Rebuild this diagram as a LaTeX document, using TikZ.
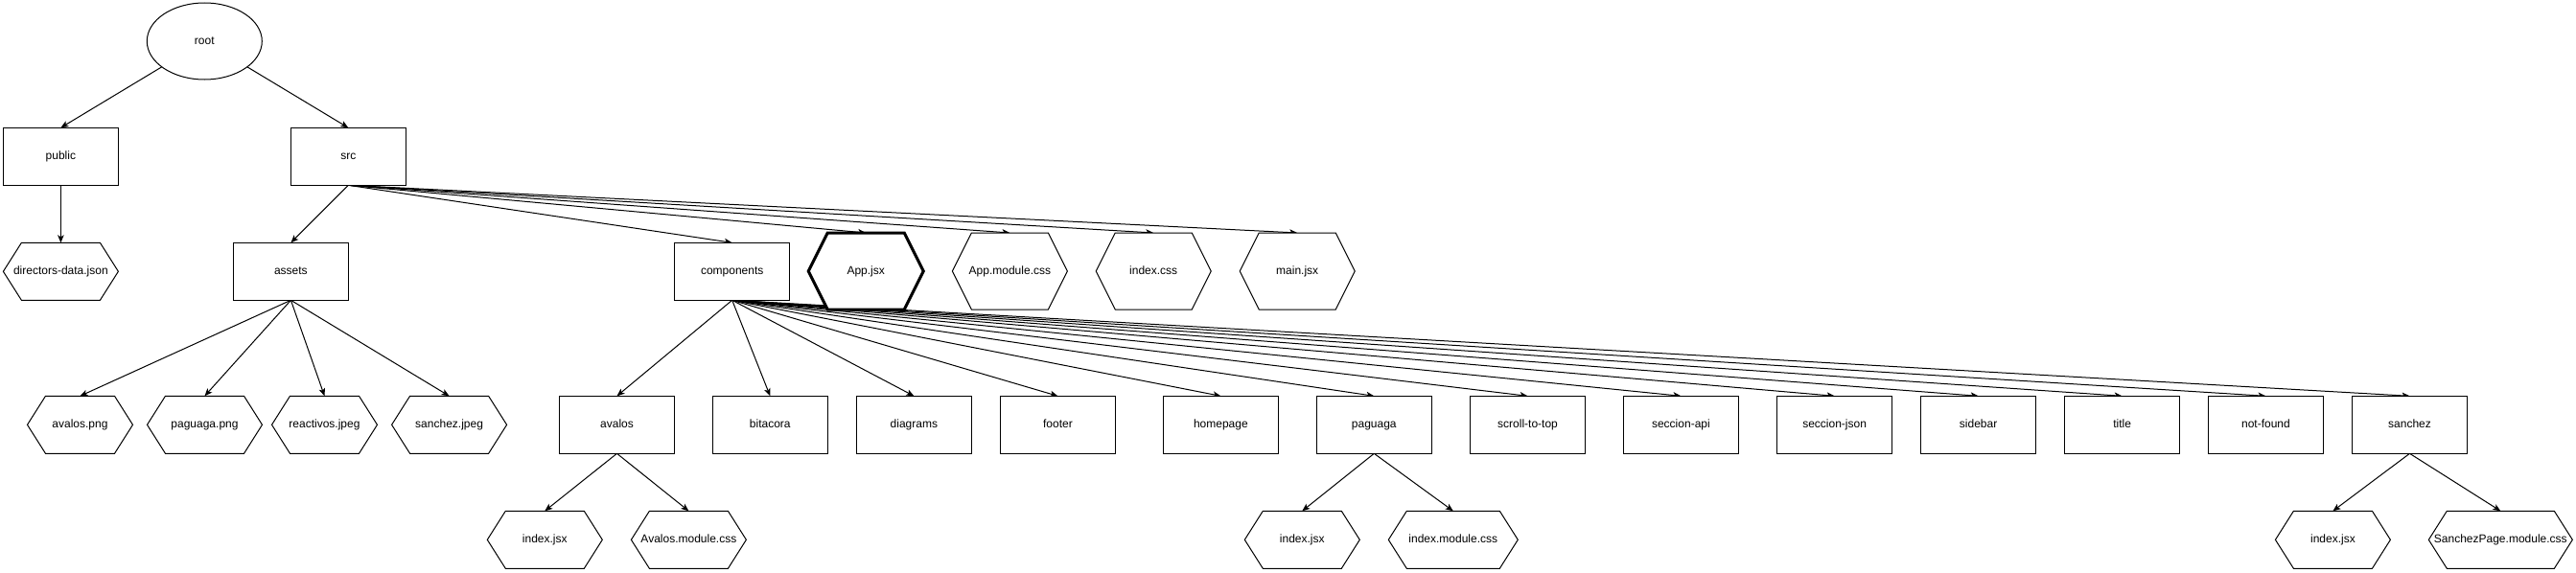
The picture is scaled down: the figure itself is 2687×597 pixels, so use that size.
\documentclass[tikz,border=0pt]{standalone}
\usepackage{fontspec}
\setmainfont{Liberation Sans}
\usetikzlibrary{arrows.meta,shapes.geometric}
\pgfdeclarelayer{edgelayer}
\pgfdeclarelayer{shapelayer}
\pgfsetlayers{edgelayer,shapelayer,main}
\tikzset{
  lbl/.style={font=\fontsize{12}{14}\selectfont, inner sep=0pt, outer sep=0pt, text=black, text height=8.7pt, text depth=2.5pt, shape=rectangle},
  box/.style={lbl, draw, line width=1pt, fill=white, minimum width=120pt, minimum height=60pt},
  hexnode/.style={lbl, minimum width=120pt, minimum height=60pt},
  bighex/.style={lbl, minimum width=120pt, minimum height=80pt},
  link/.style={line width=1pt, -{Stealth[length=8pt,width=6.5pt,inset=2pt]}},
  hexline/.style={line width=1pt, fill=white, line join=miter},
}
\newcommand\hexpath[3][]{%
  \draw[hexline,#1] (#2.west) -- ([xshift=#3]#2.north west) -- ([xshift=-#3]#2.north east) -- (#2.east) -- ([xshift=-#3]#2.south east) -- ([xshift=#3]#2.south west) -- cycle;}
\begin{document}
\begin{tikzpicture}[x=1pt,y=-1pt]
\useasboundingbox (0,0) rectangle (2687,597);
% level 0
\node[lbl, draw, line width=1pt, fill=white, shape=ellipse, minimum width=120pt, minimum height=80pt] (root) at (213.3,43) {root};
% level 1
\node[box] (public) at (63.4,163.3) {public};
\node[box] (src) at (363.3,163.3) {src};
% level 2
\node[hexnode] (directors) at (63.4,283.3) {directors-data.json};
\node[box] (assets) at (303.4,283.3) {assets};
\node[box] (components) at (763.7,283.3) {components};
\node[bighex] (appjsx) at (903.2,283) {App.jsx};
\node[bighex] (appcss) at (1053.4,283) {App.module.css};
\node[bighex] (indexcss) at (1203.2,283) {index.css};
\node[bighex] (mainjsx) at (1353.2,283) {main.jsx};
% level 3 : assets children
\node[hexnode, minimum width=110pt] (avpng) at (83.5,443.3) {avalos.png};
\node[hexnode] (pgpng) at (213.5,443.3) {paguaga.png};
\node[hexnode, minimum width=110pt] (reactivos) at (338.5,443.3) {reactivos.jpeg};
\node[hexnode] (sajpeg) at (468.6,443.3) {sanchez.jpeg};
% level 3 : components children
\node[box] (avalos) at (643.5,443.3) {avalos};
\node[box] (bitacora) at (803.3,443.3) {bitacora};
\node[box] (diagrams) at (953.4,443.3) {diagrams};
\node[box] (footer) at (1103.4,443.3) {footer};
\node[box] (homepage) at (1273.4,443.3) {homepage};
\node[box] (paguaga) at (1433.3,443.3) {paguaga};
\node[box] (scroll) at (1593.5,443.3) {scroll-to-top};
\node[box] (secapi) at (1753.4,443.3) {seccion-api};
\node[box] (secjson) at (1913.6,443.3) {seccion-json};
\node[box] (sidebar) at (2063.6,443.3) {sidebar};
\node[box] (title) at (2213.6,443.3) {title};
\node[box] (notfound) at (2363.4,443.3) {not-found};
\node[box] (sanchez) at (2513.5,443.3) {sanchez};
% level 4
\node[hexnode] (avjsx) at (568.3,563.3) {index.jsx};
\node[hexnode] (avcss) at (718.4,563.3) {Avalos.module.css};
\node[hexnode] (pgjsx) at (1358.3,563.3) {index.jsx};
\node[hexnode, minimum width=135pt] (pgcss) at (1515.8,563.3) {index.module.css};
\node[hexnode] (sajsx) at (2433.4,563.3) {index.jsx};
\node[hexnode, minimum width=150pt] (sacss) at (2608.3,563.3) {SanchezPage.module.css};
% hexagon outlines
\begin{pgfonlayer}{shapelayer}
\foreach \n in {directors,avpng,pgpng,reactivos,sajpeg,avjsx,avcss,pgjsx,pgcss,sajsx,sacss} {\hexpath{\n}{19pt}}
\hexpath[line width=3pt]{appjsx}{20pt}
\foreach \n in {appcss,indexcss,mainjsx} {\hexpath{\n}{20pt}}
\end{pgfonlayer}
% connectors
\begin{pgfonlayer}{edgelayer}
\draw[link] (root) -- (public.north);
\draw[link] (root) -- (src.north);
\draw[link] (public.south) -- (directors.north);
\foreach \t in {assets,components,appjsx,appcss,indexcss,mainjsx} {\draw[link] (src.south) -- (\t.north);}
\foreach \t in {avpng,pgpng,reactivos,sajpeg} {\draw[link] (assets.south) -- (\t.north);}
\foreach \t in {avalos,bitacora,diagrams,footer,homepage,paguaga,scroll,secapi,secjson,sidebar,title,notfound,sanchez} {\draw[link] (components.south) -- (\t.north);}
\draw[link] (avalos.south) -- (avjsx.north);
\draw[link] (avalos.south) -- (avcss.north);
\draw[link] (paguaga.south) -- (pgjsx.north);
\draw[link] (paguaga.south) -- (pgcss.north);
\draw[link] (sanchez.south) -- (sajsx.north);
\draw[link] (sanchez.south) -- (sacss.north);
\end{pgfonlayer}
\end{tikzpicture}
\end{document}
